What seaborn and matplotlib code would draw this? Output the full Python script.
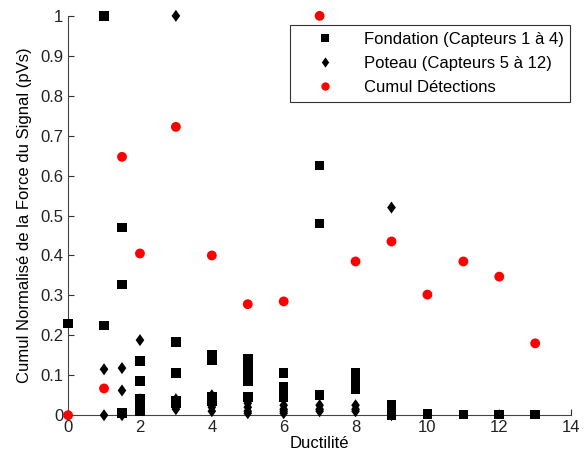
import numpy as np
import pandas as pd
import seaborn as sns
import matplotlib
matplotlib.use('Agg')
import matplotlib.pyplot as plt
from matplotlib.ticker import FormatStrFormatter

# Fondation (capteurs 1 a 4)
fond_x = [0, 1, 1, 1.5, 1.5, 1.5, 2, 2, 2, 2, 2, 3, 3, 3, 3, 4, 4, 4, 4, 4,
          5, 5, 5, 5, 5, 5, 6, 6, 6, 7, 7, 7, 8, 8, 8, 8, 9, 9, 9, 9, 10, 11, 12, 13]
fond_y = [0.23, 1.0, 0.225, 0.47, 0.327, 0.005, 0.135, 0.085, 0.04, 0.02, 0.01,
          0.183, 0.105, 0.035, 0.03, 0.15, 0.137, 0.045, 0.04, 0.035,
          0.14, 0.125, 0.11, 0.095, 0.085, 0.045, 0.105, 0.07, 0.045,
          0.625, 0.48, 0.05, 0.105, 0.09, 0.075, 0.065, 0.025, 0.015, 0.005, 0.0,
          0.003, 0.002, 0.002, 0.002]

# Poteau (capteurs 5 a 12)
pot_x = [1, 1, 1.5, 1.5, 1.5, 2, 2, 2, 2, 3, 3, 3, 3, 3, 4, 4, 4, 4, 4,
         5, 5, 5, 5, 6, 6, 6, 6, 7, 7, 7, 8, 8, 8, 9, 9]
pot_y = [0.115, 0.0, 0.118, 0.062, 0.0, 0.188, 0.04, 0.03, 0.02,
         1.0, 0.04, 0.03, 0.02, 0.015, 0.05, 0.04, 0.03, 0.02, 0.01,
         0.03, 0.02, 0.01, 0.005, 0.025, 0.015, 0.01, 0.005,
         0.025, 0.015, 0.01, 0.025, 0.015, 0.01, 0.52, 0.0]

# Cumul detections
cum_x = [0, 1, 1.5, 2, 3, 4, 5, 6, 7, 8, 9, 10, 11, 12, 13]
cum_y = [0.0, 0.067, 0.647, 0.405, 0.722, 0.4, 0.278, 0.285, 1.0, 0.385,
         0.435, 0.302, 0.385, 0.347, 0.18]

labels = ['Fondation (Capteurs 1 à 4)', 'Poteau (Capteurs 5 à 12)', 'Cumul Détections']

df = pd.concat([
    pd.DataFrame({'x': fond_x, 'y': fond_y, 'serie': labels[0]}),
    pd.DataFrame({'x': pot_x, 'y': pot_y, 'serie': labels[1]}),
    pd.DataFrame({'x': cum_x, 'y': cum_y, 'serie': labels[2]}),
])

plt.rcParams['font.family'] = ['Liberation Sans', 'DejaVu Sans']
plt.rcParams['font.size'] = 12

fig = plt.figure(figsize=(5.87, 4.66), dpi=100)
ax = fig.add_axes([0.116, 0.109, 0.857, 0.857])

diamond = [(0, 1), (0.72, 0), (0, -1), (-0.72, 0), (0, 1)]
sns.scatterplot(data=df, x='x', y='y', hue='serie', style='serie', size='serie',
                palette={labels[0]: 'black', labels[1]: 'black', labels[2]: 'red'},
                markers={labels[0]: 's', labels[1]: diamond, labels[2]: 'o'},
                sizes={labels[0]: 48, labels[1]: 75, labels[2]: 50},
                linewidth=0, ax=ax, zorder=3)

ax.set_xlim(0, 14)
ax.set_ylim(0, 1)
ax.set_xticks(np.arange(0, 15, 2))
ax.set_yticks(np.arange(0, 1.01, 0.1))
ax.yaxis.set_major_formatter(FormatStrFormatter('%g'))
ax.xaxis.set_major_formatter(FormatStrFormatter('%g'))
ax.tick_params(direction='in', length=4, colors='#333333', labelcolor='#222222')
ax.spines['top'].set_visible(False)
ax.spines['right'].set_visible(False)
for sp in ['left', 'bottom']:
    ax.spines[sp].set_color('#444444')
ax.set_xlabel('Ductilité', labelpad=1)
ax.set_ylabel('Cumul Normalisé de la Force du Signal (pVs)', labelpad=6)

for sp in ax.spines.values():
    sp.set_clip_on(False)
for c in ax.collections:
    c.set_clip_on(False)

leg = ax.legend(loc='upper right', bbox_to_anchor=(0.998, 0.977), borderaxespad=0,
                frameon=True, fancybox=False, edgecolor='black', borderpad=0.4,
                handlelength=3.4, handletextpad=0.6, labelspacing=0.55,
                markerscale=0.85)
leg.get_frame().set_linewidth(0.8)

fig.savefig('out.png', dpi=100)
